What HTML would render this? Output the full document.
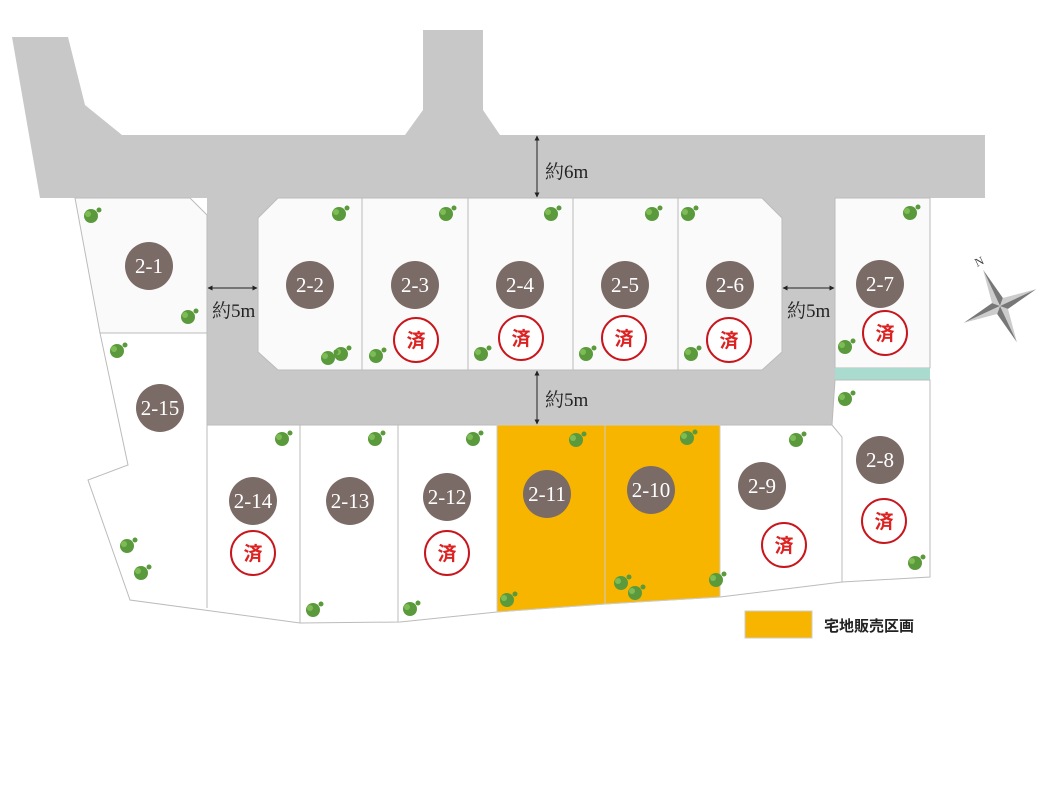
<!DOCTYPE html>
<html><head><meta charset="utf-8"><style>
body{margin:0;background:#fff;}
svg{display:block;}
.n{font-family:"Liberation Serif",serif;font-size:21px;fill:#fff;text-anchor:middle;}
.m{font-family:"Liberation Serif","Noto Serif CJK SC",serif;font-size:19px;fill:#222;}
.s{font-family:"Noto Sans CJK JP",sans-serif;font-size:19px;font-weight:bold;fill:#d22;text-anchor:middle;}
</style></head><body>
<svg width="1037" height="800" viewBox="0 0 1037 800">
<defs>
<marker id="a" viewBox="0 0 10 10" refX="9" refY="5" markerWidth="5" markerHeight="5" orient="auto-start-reverse"><path d="M0,0L10,5L0,10z" fill="#222"/></marker>
<g id="t"><circle cx="0" cy="0" r="7" fill="#5b9a3c"/><circle cx="-3" cy="-2" r="3" fill="#7dbb55"/><circle cx="8" cy="-6" r="2.5" fill="#5b9a3c"/></g>
</defs>
<!-- roads -->
<path d="M12,37 L68,37 L85,105 L122,135 L405,135 L423,110 L423,30 L483,30 L483,110 L500,135 L985,135 L985,198 L835,198 L835,425 L207,425 L207,198 L40,198 Z" fill="#c8c8c8"/>
<!-- lots -->
<path d="M75,198 L190,198 L207,215 L207,333 L100,333 Z" fill="#fafafa" stroke="#bbb"/>
<path d="M278,198 L762,198 L782,218 L782,352 L762,370 L278,370 L258,352 L258,218 Z" fill="#fafafa" stroke="#bbb"/>
<g stroke="#bbb"><line x1="362" y1="198" x2="362" y2="370"/><line x1="468" y1="198" x2="468" y2="370"/><line x1="573" y1="198" x2="573" y2="370"/><line x1="678" y1="198" x2="678" y2="370"/></g>
<path d="M835,198 L930,198 L930,368 L835,368 Z" fill="#fafafa" stroke="#bbb"/>
<rect x="835" y="368" width="95" height="12" fill="#a9dccf"/>
<path d="M100,333 L207,333 L207,425 L832,425 L835,380 L930,380 L930,577 L842,582 L720,597 L605,604 L497,612 L400,622 L300,623 L130,600 L88,480 L128,465 Z" fill="#fff" stroke="#bbb"/>
<path d="M497,425 L605,425 L605,604 L497,612 Z" fill="#f7b500" stroke="#ccc"/>
<path d="M605,425 L720,425 L720,597 L605,604 Z" fill="#f7b500" stroke="#ccc"/>
<g stroke="#bbb" fill="none"><line x1="207" y1="425" x2="207" y2="608"/><line x1="300" y1="425" x2="300" y2="623"/><line x1="398" y1="425" x2="398" y2="622"/><path d="M832,425 L842,437 L842,582"/></g>
<!-- trees -->
<g>
<use href="#t" x="91" y="216"/><use href="#t" x="188" y="317"/><use href="#t" x="339" y="214"/><use href="#t" x="341" y="354"/><use href="#t" x="328" y="358"/><use href="#t" x="446" y="214"/><use href="#t" x="376" y="356"/><use href="#t" x="551" y="214"/><use href="#t" x="481" y="354"/><use href="#t" x="652" y="214"/><use href="#t" x="586" y="354"/><use href="#t" x="688" y="214"/><use href="#t" x="691" y="354"/><use href="#t" x="910" y="213"/><use href="#t" x="845" y="347"/><use href="#t" x="117" y="351"/><use href="#t" x="845" y="399"/><use href="#t" x="282" y="439"/><use href="#t" x="375" y="439"/><use href="#t" x="473" y="439"/><use href="#t" x="576" y="440"/><use href="#t" x="687" y="438"/><use href="#t" x="796" y="440"/><use href="#t" x="127" y="546"/><use href="#t" x="141" y="573"/><use href="#t" x="313" y="610"/><use href="#t" x="410" y="609"/><use href="#t" x="507" y="600"/><use href="#t" x="621" y="583"/><use href="#t" x="635" y="593"/><use href="#t" x="716" y="580"/><use href="#t" x="915" y="563"/>
</g>
<!-- circles -->
<g fill="#7b6b66">
<circle cx="149" cy="266" r="24"/><circle cx="310" cy="285" r="24"/><circle cx="415" cy="285" r="24"/><circle cx="520" cy="285" r="24"/><circle cx="625" cy="285" r="24"/><circle cx="730" cy="285" r="24"/><circle cx="880" cy="284" r="24"/><circle cx="160" cy="408" r="24"/><circle cx="253" cy="501" r="24"/><circle cx="350" cy="501" r="24"/><circle cx="447" cy="497" r="24"/><circle cx="547" cy="494" r="24"/><circle cx="651" cy="490" r="24"/><circle cx="762" cy="486" r="24"/><circle cx="880" cy="460" r="24"/>
</g>
<g class="n">
<text x="149" y="273" class="n">2-1</text><text x="310" y="292" class="n">2-2</text><text x="415" y="292" class="n">2-3</text><text x="520" y="292" class="n">2-4</text><text x="625" y="292" class="n">2-5</text><text x="730" y="292" class="n">2-6</text><text x="880" y="291" class="n">2-7</text><text x="160" y="415" class="n">2-15</text><text x="253" y="508" class="n">2-14</text><text x="350" y="508" class="n">2-13</text><text x="447" y="504" class="n">2-12</text><text x="547" y="501" class="n">2-11</text><text x="651" y="497" class="n">2-10</text><text x="762" y="493" class="n">2-9</text><text x="880" y="467" class="n">2-8</text>
</g>
<g fill="#fff" stroke="#c8161d" stroke-width="2">
<circle cx="416" cy="340" r="22"/><circle cx="521" cy="338" r="22"/><circle cx="624" cy="338" r="22"/><circle cx="729" cy="340" r="22"/><circle cx="885" cy="333" r="22"/><circle cx="253" cy="553" r="22"/><circle cx="447" cy="553" r="22"/><circle cx="784" cy="545" r="22"/><circle cx="884" cy="521" r="22"/>
</g>
<g>
<text x="416" y="347" class="s">済</text><text x="521" y="345" class="s">済</text><text x="624" y="345" class="s">済</text><text x="729" y="347" class="s">済</text><text x="885" y="340" class="s">済</text><text x="253" y="560" class="s">済</text><text x="447" y="560" class="s">済</text><text x="784" y="552" class="s">済</text><text x="884" y="528" class="s">済</text>
</g>
<!-- dims -->
<g stroke="#222" stroke-width="1" marker-start="url(#a)" marker-end="url(#a)">
<line x1="537" y1="136" x2="537" y2="197"/><line x1="537" y1="371" x2="537" y2="424"/><line x1="208" y1="288" x2="257" y2="288"/><line x1="783" y1="288" x2="834" y2="288"/>
</g>
<text x="545" y="178" class="m">約6m</text>
<text x="545" y="406" class="m">約5m</text>
<text x="212" y="317" class="m">約5m</text>
<text x="787" y="317" class="m">約5m</text>
<!-- compass -->
<g transform="translate(1000,306) rotate(-25)">
<path d="M0,-40 L6,-6 L0,0 Z" fill="#777"/><path d="M0,-40 L-6,-6 L0,0 Z" fill="#ccc"/>
<path d="M0,40 L6,6 L0,0 Z" fill="#ccc"/><path d="M0,40 L-6,6 L0,0 Z" fill="#777"/>
<path d="M40,0 L6,-6 L0,0 Z" fill="#ccc"/><path d="M40,0 L6,6 L0,0 Z" fill="#777"/>
<path d="M-40,0 L-6,-6 L0,0 Z" fill="#777"/><path d="M-40,0 L-6,6 L0,0 Z" fill="#ccc"/>
<path d="M0,0 L20,-20 L4,-4Z M0,0 L-20,20 L-4,4Z M0,0 L20,20 L4,4Z M0,0 L-20,-20 L-4,-4Z" fill="#999"/>
<text x="0" y="-45" font-family="Liberation Serif" font-size="12" text-anchor="middle" fill="#444">N</text>
</g>
<!-- legend -->
<rect x="745" y="611" width="67" height="27" fill="#f7b500" stroke="#ccc"/>
<text x="824" y="631" font-family="Liberation Sans,'Noto Sans CJK JP',sans-serif" font-size="15" font-weight="bold" fill="#222">宅地販売区画</text>
</svg>
</body></html>
